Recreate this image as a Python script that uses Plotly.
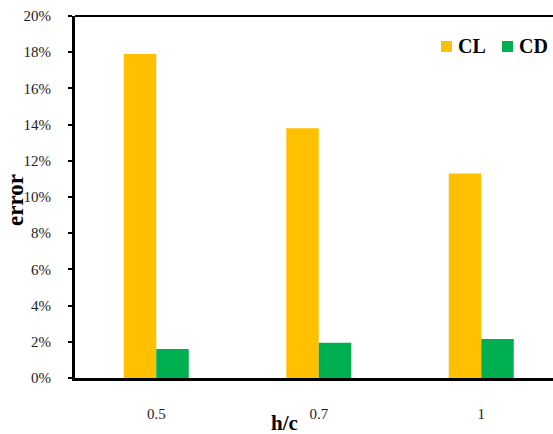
import plotly.graph_objects as go

categories = ["0.5", "0.7", "1"]
cl_values = [0.179, 0.138, 0.113]
cd_values = [0.016, 0.0195, 0.0215]
y_ticks = [0, 0.02, 0.04, 0.06, 0.08, 0.10, 0.12, 0.14, 0.16, 0.18, 0.20]
series_names = ["CL", "CD"]
series_colors = ["#FFC000", "#00B050"]

font_family = "Liberation Serif, Times New Roman, serif"

fig = go.Figure()
fig.add_trace(go.Bar(name=series_names[0], x=categories, y=cl_values,
                     marker_color=series_colors[0], marker_line_width=0, showlegend=False))
fig.add_trace(go.Bar(name=series_names[1], x=categories, y=cd_values,
                     marker_color=series_colors[1], marker_line_width=0, showlegend=False))

W, H = 553, 434
ml, mt, mb = 75, 16, 56
pw, ph = W - ml, H - mt - mb
cat_px = 162.5
x_end = -0.5 + pw / cat_px

tick_font = dict(family=font_family, size=15, color="#222")

fig.update_layout(
    width=W, height=H,
    margin=dict(l=ml, r=0, t=mt, b=mb),
    paper_bgcolor="white", plot_bgcolor="white",
    barmode="group", bargap=0.6, bargroupgap=0,
    font=dict(family=font_family, color="#222", size=14),
    showlegend=False,
)
fig.update_xaxes(type="category", range=[-0.5, x_end], showline=True, linecolor="black",
                 linewidth=3, ticks="", showgrid=False, ticklabelstandoff=20,
                 tickfont=tick_font)
fig.update_yaxes(range=[0, 0.2], tickvals=y_ticks, tickformat=".0%", showline=True,
                 linecolor="black", linewidth=3, ticks="outside", ticklen=4, tickwidth=2,
                 tickcolor="black", showgrid=False, zeroline=False, ticklabelstandoff=14,
                 tickfont=tick_font)
fig.add_shape(type="line", xref="paper", yref="paper", x0=0, x1=1, y0=1, y1=1,
              line=dict(color="black", width=2))

# manual legend (top right)
def px_x(x):
    return (x - ml) / pw

def px_y(y):
    return (H - mb - y) / ph

legend_items = [(441, 456), (502, 517)]
for (sq_x, tx_x), name, color in zip(legend_items, series_names, series_colors):
    fig.add_shape(type="rect", xref="paper", yref="paper",
                  x0=px_x(sq_x), x1=px_x(sq_x + 11), y0=px_y(52), y1=px_y(41),
                  fillcolor=color, line_width=0)
    fig.add_annotation(text="<b>" + name + "</b>", xref="paper", yref="paper",
                       x=px_x(tx_x), y=px_y(46.5), xanchor="left", yanchor="middle",
                       showarrow=False,
                       font=dict(family=font_family, size=20, color="black"))

fig.add_annotation(text="<b>error</b>", xref="paper", yref="paper",
                   x=px_x(15), y=px_y(200), textangle=-90,
                   showarrow=False, xanchor="center", yanchor="middle",
                   font=dict(family=font_family, size=23, color="black"))
fig.add_annotation(text="<b>h/c</b>", xref="paper", yref="paper",
                   x=px_x(284), y=px_y(423),
                   showarrow=False, xanchor="center", yanchor="middle",
                   font=dict(family=font_family, size=21, color="black"))

fig.write_html("out.html", config={"displayModeBar": False},
               post_script="document.body.style.margin='0px';")
